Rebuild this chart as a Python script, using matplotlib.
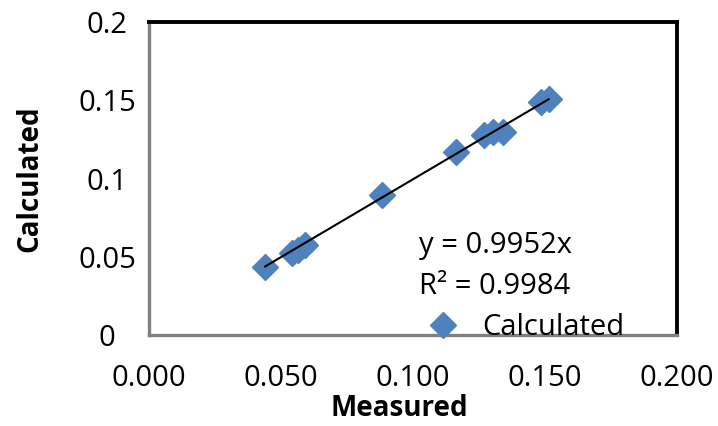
import matplotlib
matplotlib.use('Agg')
import matplotlib.pyplot as plt
import numpy as np

plt.rcParams['font.family'] = ['Open Sans', 'DejaVu Sans']

# values
measured = [0.0440, 0.0543, 0.0565, 0.0592, 0.0884, 0.1161, 0.1268, 0.1302, 0.1340, 0.1484, 0.1514]
calculated = [0.0435, 0.0524, 0.0543, 0.0575, 0.0895, 0.1169, 0.1278, 0.1297, 0.1297, 0.1489, 0.1508]
slope = 0.9952
r2 = 0.9984

x_ticks = [0.0, 0.05, 0.1, 0.15, 0.2]
x_labels = ['0.000', '0.050', '0.100', '0.150', '0.200']
y_ticks = [0.0, 0.05, 0.1, 0.15, 0.2]
y_labels = ['0', '0.05', '0.1', '0.15', '0.2']

blue = '#4F81BD'

fig = plt.figure(figsize=(7.18, 4.26), dpi=100)
ax = fig.add_axes([149 / 718, 1 - 335 / 426, (677 - 149) / 718, (335 - 22) / 426])

ax.plot(measured, calculated, linestyle='none', marker='D', markersize=13,
        color=blue, label='Calculated', zorder=3)

xs = np.array([min(measured), max(measured)])
ax.plot(xs, slope * xs, color='black', linewidth=1.5, zorder=4)

ax.set_xlim(0, 0.2)
ax.set_ylim(0, 0.2)
ax.set_xticks(x_ticks)
ax.set_xticklabels(x_labels)
ax.set_yticks(y_ticks)
ax.set_yticklabels(y_labels)
ax.tick_params(axis='both', length=0, labelsize=21)
ax.tick_params(axis='x', pad=21)
ax.tick_params(axis='y', pad=30)
for lbl in ax.get_yticklabels():
    lbl.set_horizontalalignment('center')

for side in ['left', 'bottom']:
    ax.spines[side].set_color('#808080')
    ax.spines[side].set_linewidth(2.4)
for side in ['top', 'right']:
    ax.spines[side].set_color('black')
    ax.spines[side].set_linewidth(2.8)

ax.set_xlabel('Measured', fontsize=20, fontweight='bold')
ax.set_ylabel('Calculated', fontsize=20, fontweight='bold')
ax.xaxis.set_label_coords((399 - 149) / 528, -(394 - 335) / 313)
ax.yaxis.set_label_coords(-(149 - 44) / 528, 0.5)

ax.text(0.1021, 0.0575, 'y = %.4fx' % slope, fontsize=21, va='center', ha='left')
ax.text(0.1021, 0.0307, 'R² = %.4f' % r2, fontsize=21, va='center', ha='left')

leg = ax.legend(loc='lower left', bbox_to_anchor=((414 - 149) / 528, -0.06),
                frameon=False, fontsize=21, handletextpad=0.75, borderaxespad=0,
                handlelength=1.2)

fig.savefig('out.png', dpi=100)
